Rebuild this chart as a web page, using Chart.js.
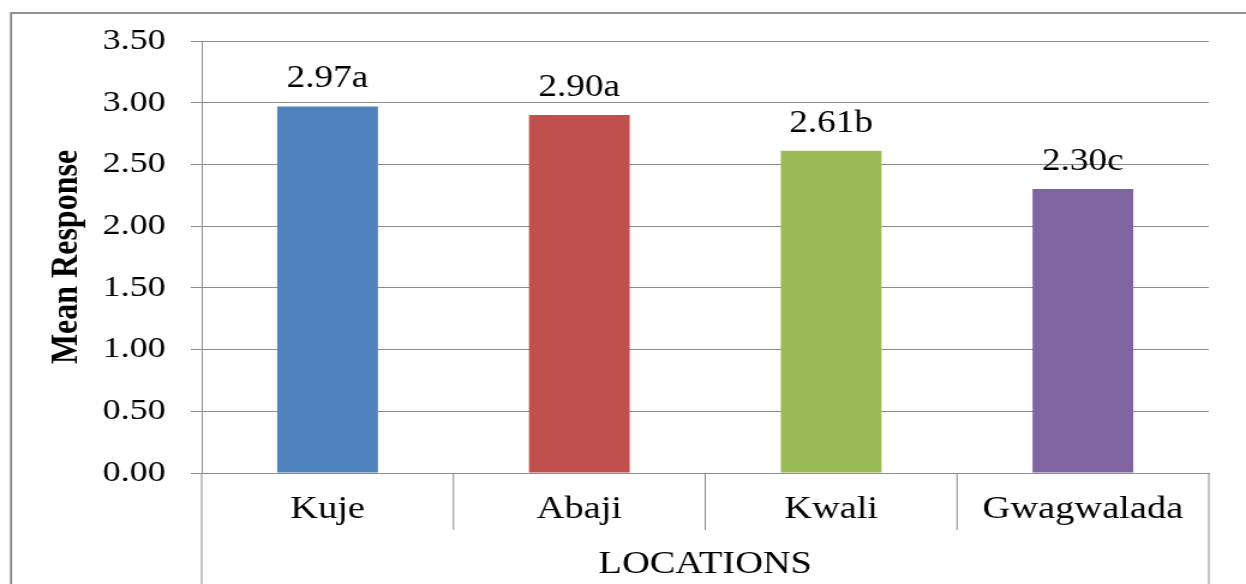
<!DOCTYPE html>
<html>
<head>
<meta charset="utf-8">
<script src="https://cdn.jsdelivr.net/npm/chart.js@4/dist/chart.umd.min.js"></script>
<style>
  html, body { margin: 0; padding: 0; background: #fff; overflow: hidden; }
</style>
</head>
<body>
<!-- the reference is stretched sideways, so the canvas is drawn narrow and widened by css -->
<canvas id="chart" width="1038" height="584" style="display:block;width:1246px;height:584px"></canvas>
<script>
"use strict";

// ---------- Data ----------
const locations = ["Kuje", "Abaji", "Kwali", "Gwagwalada"];
const meanResponse = [2.97, 2.90, 2.61, 2.30];
const groupLetters = ["a", "a", "b", "c"];
const barColors = ["#4F81BD", "#C0504D", "#9BBB59", "#8064A2"];
const yMin = 0;
const yMax = 3.5;
const yStep = 0.5;

const SERIF = "'Times New Roman', 'Liberation Serif', serif";
const GRID = "#8c8c8c";

// ---------- Plugins ----------
const frame = {
  id: "frame",
  beforeDraw(chart) {
    const { ctx, width, height } = chart;
    ctx.save();
    ctx.fillStyle = "#fff";
    ctx.fillRect(0, 0, width, height);
    ctx.strokeStyle = "#808080";
    ctx.lineWidth = 1.7;
    ctx.strokeRect(9.2, 13, width + 20, height + 20);
    ctx.restore();
  },
  afterDraw(chart) {
    const { ctx, chartArea, height } = chart;
    const x = chart.scales.x;
    ctx.save();
    ctx.strokeStyle = GRID;
    ctx.lineWidth = 1;
    ctx.beginPath();
    // category dividers under the axis
    for (let i = 1; i < locations.length; i++) {
      const px = (x.getPixelForTick(i - 1) + x.getPixelForTick(i)) / 2;
      ctx.moveTo(px, chartArea.bottom);
      ctx.lineTo(px, chartArea.bottom + 57);
    }
    // outer edges of the label box
    ctx.moveTo(chartArea.left, chartArea.bottom);
    ctx.lineTo(chartArea.left, height);
    ctx.moveTo(chartArea.right, chartArea.bottom);
    ctx.lineTo(chartArea.right, height);
    ctx.stroke();
    ctx.restore();
  }
};

const barLabels = {
  id: "barLabels",
  afterDatasetsDraw(chart) {
    const { ctx } = chart;
    const meta = chart.getDatasetMeta(0);
    ctx.save();
    ctx.font = "31px " + SERIF;
    ctx.fillStyle = "#000";
    ctx.textAlign = "center";
    ctx.textBaseline = "alphabetic";
    meta.data.forEach((bar, i) => {
      ctx.fillText(meanResponse[i].toFixed(2) + groupLetters[i], bar.x, bar.y - 19);
    });
    ctx.restore();
  }
};

// ---------- Chart ----------
new Chart(document.getElementById("chart"), {
  type: "bar",
  data: {
    labels: locations,
    datasets: [{
      data: meanResponse,
      backgroundColor: barColors,
      borderWidth: 0,
      barPercentage: 0.4,
      categoryPercentage: 1
    }]
  },
  options: {
    responsive: false,
    animation: false,
    layout: { padding: { top: 41, right: 31, left: 0, bottom: 0 } },
    plugins: {
      legend: { display: false },
      tooltip: { enabled: false }
    },
    scales: {
      x: {
        grid: { display: false, drawTicks: false },
        border: { display: true, color: GRID },
        ticks: {
          color: "#000",
          padding: 17,
          font: { family: SERIF, size: 32 }
        },
        title: {
          display: true,
          text: "LOCATIONS",
          color: "#000",
          padding: 0,
          font: { family: SERIF, size: 32 }
        },
        afterFit(scale) { scale.height = 111; }
      },
      y: {
        min: yMin,
        max: yMax,
        grid: { color: GRID, tickColor: GRID, tickLength: 9 },
        border: { display: true, color: GRID },
        ticks: {
          stepSize: yStep,
          color: "#000",
          padding: 21,
          font: { family: SERIF, size: 30 },
          callback: v => v.toFixed(2)
        },
        title: {
          display: true,
          text: "Mean Response",
          color: "#000",
          padding: { top: 37, bottom: 0 },
          font: { family: SERIF, size: 32, weight: "bold" }
        },
        afterFit(scale) { scale.width = 168; }
      }
    }
  },
  plugins: [frame, barLabels]
});
</script>
</body>
</html>
